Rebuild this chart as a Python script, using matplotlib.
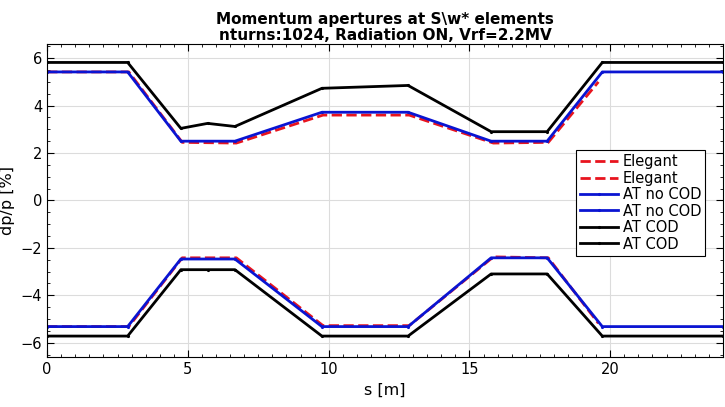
import numpy as np
import matplotlib
matplotlib.use("Agg")
import matplotlib.pyplot as plt
from matplotlib.ticker import MultipleLocator

# data
s_at = [0, 2.86, 4.75, 5.7, 6.67, 9.76, 12.82, 15.77, 17.76, 19.72, 24.0]
at_cod_pos = [5.82, 5.82, 3.04, 3.25, 3.12, 4.73, 4.85, 2.9, 2.9, 5.82, 5.82]
at_cod_neg = [-5.72, -5.72, -2.92, -2.92, -2.92, -5.72, -5.72, -3.1, -3.1, -5.72, -5.72]

s_nocod = [0, 2.86, 4.75, 6.67, 9.76, 12.82, 15.77, 17.76, 19.72, 24.0]
at_nocod_pos = [5.42, 5.42, 2.5, 2.5, 3.72, 3.72, 2.5, 2.5, 5.42, 5.42]
at_nocod_neg = [-5.32, -5.32, -2.47, -2.47, -5.32, -5.32, -2.42, -2.42, -5.32, -5.32]

s_ele = [0, 2.9, 4.8, 6.72, 9.8, 12.86, 15.85, 17.8, 19.58]
ele_pos = [5.42, 5.42, 2.45, 2.42, 3.6, 3.6, 2.42, 2.45, 5.0]
ele_neg = [-5.32, -5.32, -2.42, -2.42, -5.28, -5.28, -2.38, -2.42, -5.18]

fig = plt.figure(figsize=(7.25, 4.07), dpi=100)
ax = fig.add_axes([0.065, 0.123, 0.932, 0.769])

ax.plot(s_ele, ele_pos, "--", c="#e8141e", lw=2.0, label="Elegant")
ax.plot(s_ele, ele_neg, "--", c="#e8141e", lw=2.0, label="Elegant")
ax.plot(s_nocod, at_nocod_pos, "-", c="#0a14d2", lw=2.0, marker=".", ms=2.5, label="AT no COD")
ax.plot(s_nocod, at_nocod_neg, "-", c="#0a14d2", lw=2.0, marker=".", ms=2.5, label="AT no COD")
ax.plot(s_at, at_cod_pos, "-", c="k", lw=2.0, marker=".", ms=2.5, label="AT COD")
ax.plot(s_at, at_cod_neg, "-", c="k", lw=2.0, marker=".", ms=2.5, label="AT COD")

ax.set_xlim(0, 24.0)
ax.set_ylim(-6.6, 6.6)
ax.xaxis.set_major_locator(MultipleLocator(5))
ax.xaxis.set_minor_locator(MultipleLocator(0.5))
ax.yaxis.set_major_locator(MultipleLocator(2))
ax.yaxis.set_minor_locator(MultipleLocator(0.5))
ax.tick_params(which="both", direction="in", top=True, right=True, labelsize=10.5)
ax.tick_params(which="major", length=5)
ax.tick_params(which="minor", length=2.5)
ax.grid(True, which="major", color="#dcdcdc", lw=0.8)
ax.set_axisbelow(True)

ax.set_xlabel("s [m]", fontsize=11.5)
ax.set_ylabel("dp/p [%]", fontsize=11.5)
ax.set_title("Momentum apertures at S\\w* elements\nnturns:1024, Radiation ON, Vrf=2.2MV",
             fontsize=11, fontweight="bold", linespacing=1.1, pad=3)

leg = ax.legend(loc="upper right", bbox_to_anchor=(0.985, 0.685), fontsize=10.5,
                fancybox=False, framealpha=1, edgecolor="k", borderpad=0.3,
                labelspacing=0.1, handlelength=2.6, handletextpad=0.3)
leg.get_frame().set_linewidth(0.8)

fig.savefig("out.png", dpi=100)
